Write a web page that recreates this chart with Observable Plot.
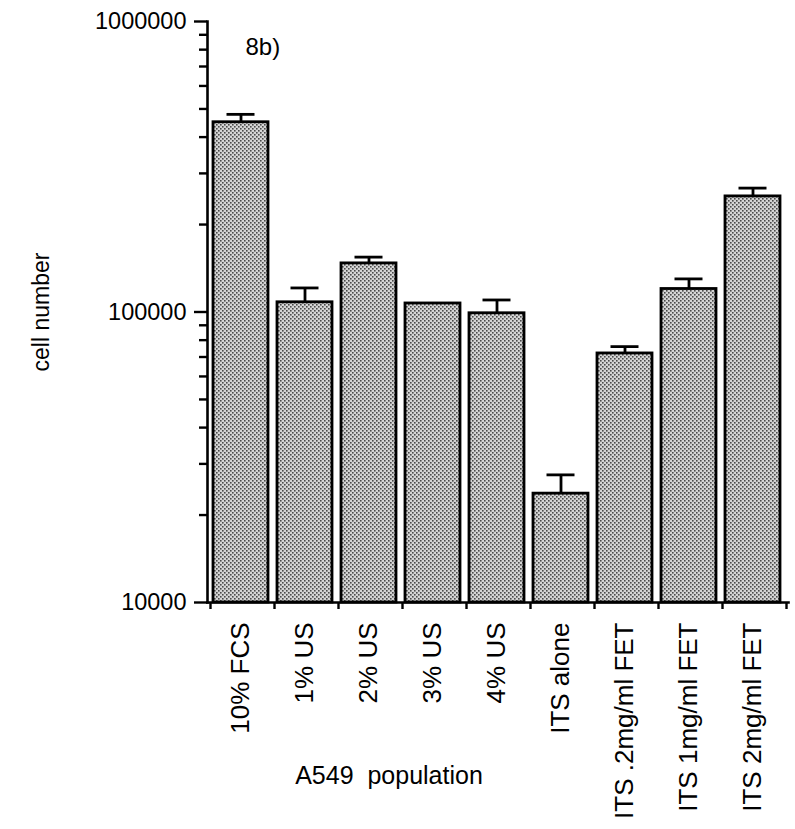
<!DOCTYPE html>
<html>
<head>
<meta charset="utf-8">
<script src="https://cdn.jsdelivr.net/npm/d3@7"></script>
<script src="https://cdn.jsdelivr.net/npm/@observablehq/plot@0.6"></script>
<style>
  html, body { margin: 0; padding: 0; background: #fff; }
  #chart { width: 795px; height: 829px; }
</style>
</head>
<body>
<div id="chart"></div>
<script>
const categories = ["10% FCS", "1% US", "2% US", "3% US", "4% US", "ITS alone", "ITS .2mg/ml FET", "ITS 1mg/ml FET", "ITS 2mg/ml FET"];
const means = [450000, 108000, 147000, 107000, 99000, 23700, 72000, 120000, 250000];
const upperErrors = [479000, 121000, 154500, null, 110000, 27500, 76000, 130000, 267000];
const majorTicks = [10000, 100000, 1000000];
const minorTicks = [20000, 30000, 40000, 50000, 60000, 70000, 80000, 90000,
                    200000, 300000, 400000, 500000, 600000, 700000, 800000, 900000];
const yTitle = "cell number";
const xTitle = "A549  population";
const panelLabel = "8b)";

const data = categories.map((c, i) => ({cat: c, mean: means[i], upper: upperErrors[i]}));
const errData = data.filter(d => d.upper != null);
const font = "'Liberation Sans', Arial, Helvetica, sans-serif";

const svg = Plot.plot({
  width: 795,
  height: 829,
  marginTop: 21,
  marginBottom: 227,
  marginLeft: 207,
  marginRight: 7,
  style: {fontFamily: font, color: "#000", background: "#fff", overflow: "visible"},
  x: {type: "band", domain: categories, range: [210, 786], padding: 0, label: null, axis: null},
  y: {type: "log", domain: [10000, 1000000], label: null, axis: null},
  marks: [
    Plot.barY(data, {
      x: "cat", y1: () => majorTicks[0], y2: "mean",
      fill: "url(#stipple)", stroke: "#000", strokeWidth: 2.8,
      insetLeft: 3, insetRight: 6
    }),
    Plot.ruleX(errData, {x: "cat", y1: "mean", y2: "upper", dx: -1.5, stroke: "#000", strokeWidth: 2.8}),
    Plot.tickY(errData, {x: "cat", y: "upper", insetLeft: 16.5, insetRight: 19.5, stroke: "#000", strokeWidth: 2.8}),
    Plot.frame({anchor: "left", stroke: "#000", strokeWidth: 2.6}),
    Plot.frame({anchor: "bottom", stroke: "#000", strokeWidth: 2.6}),
    Plot.axisY({ticks: majorTicks, tickSize: 13, tickPadding: 8, tickFormat: d => String(d),
                fontSize: 23.5, strokeWidth: 2.4, label: null}),
    Plot.axisY({ticks: minorTicks, tickSize: 8, tickFormat: () => "", strokeWidth: 2.4, label: null}),
    Plot.axisX({ticks: categories, tickSize: 7, tickFormat: () => "", dx: -32, strokeWidth: 2.4, label: null}),
    Plot.axisX({ticks: categories.slice(-1), tickSize: 7, tickFormat: () => "", dx: 32, strokeWidth: 2.4, label: null}),
    Plot.axisX({ticks: categories, tickSize: 0, tickPadding: 20, tickRotate: -90, fontSize: 26, dx: -2, label: null}),
    Plot.text([yTitle], {frameAnchor: "left", text: d => d, rotate: -90, textAnchor: "middle", lineAnchor: "middle",
                         dx: -166, fontSize: 23}),
    Plot.text([xTitle], {frameAnchor: "bottom", text: d => d, textAnchor: "middle", lineAnchor: "middle",
                         dx: -109, dy: 173, fontSize: 25}),
    Plot.text([panelLabel], {frameAnchor: "top-left", text: d => d, textAnchor: "start", lineAnchor: "middle",
                             dx: 38, dy: 26, fontSize: 24})
  ]
});

svg.insertAdjacentHTML("afterbegin",
  `<defs><pattern id="stipple" width="4" height="4" patternUnits="userSpaceOnUse">
     <rect width="4" height="4" fill="#d4d4d4"></rect>
     <rect x="0" y="0" width="1.6" height="1.6" fill="#4a4a4a"></rect>
     <rect x="2" y="2" width="1.6" height="1.6" fill="#4a4a4a"></rect>
   </pattern></defs>`);

document.getElementById("chart").appendChild(svg);
</script>
</body>
</html>
